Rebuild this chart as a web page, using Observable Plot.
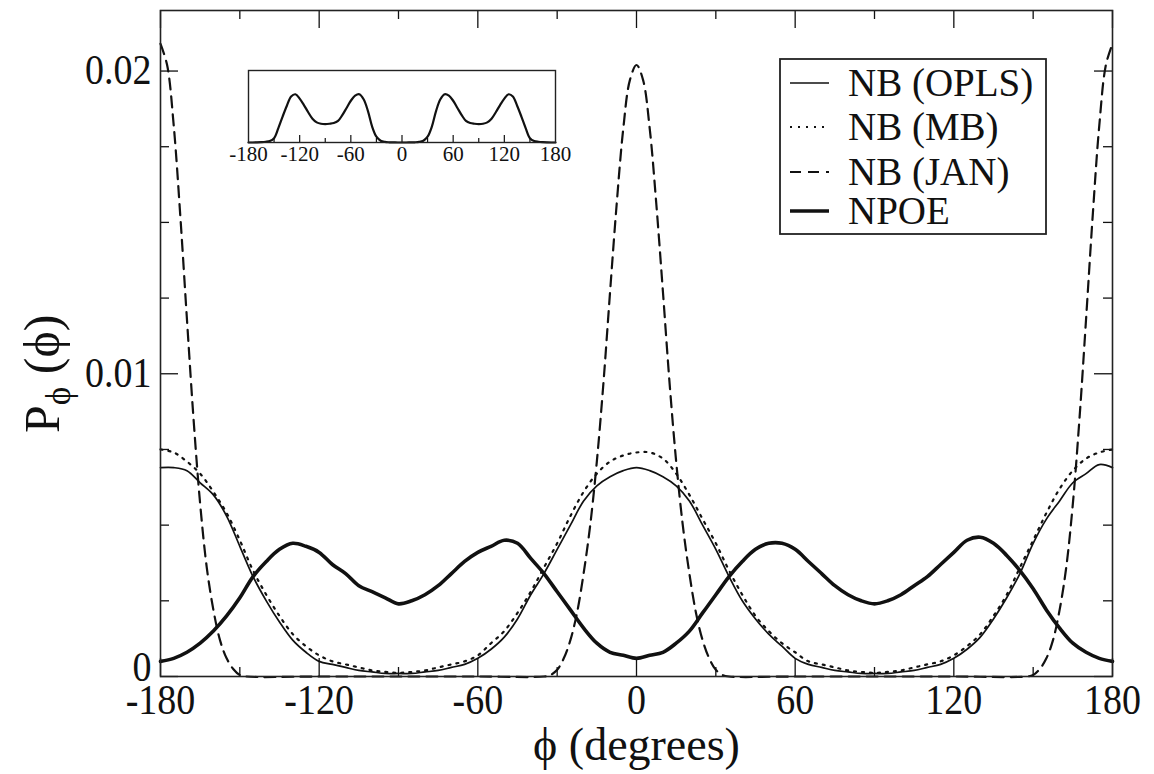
<!DOCTYPE html>
<html>
<head>
<meta charset="utf-8">
<script src="https://cdn.jsdelivr.net/npm/d3@7"></script>
<script src="https://cdn.jsdelivr.net/npm/@observablehq/plot@0.6"></script>
<style>
  body { margin: 0; background: #fff; }
  #wrap { position: relative; width: 1154px; height: 774px; overflow: hidden; font-family: "Liberation Serif", "Times New Roman", "DejaVu Serif", serif; }
  #wrap text { font-family: "Liberation Serif", "Times New Roman", "DejaVu Serif", serif !important; }
  #inset { position: absolute; left: 228px; top: 68px; }
  #legend { position: absolute; left: 779px; top: 58px; }
</style>
</head>
<body>
<div id="wrap"></div>
<script>
// ---- data ----
const phi = [
  -180,-175,-170,-165,-160,-155,-150,-145,-140,-135,-130,-125,
  -120,-115,-110,-105,-100,-95,-90,-85,-80,-75,-70,-65,
  -60,-55,-50,-45,-40,-35,-30,-25,-20,-15,-10,-5,
  0,5,10,15,20,25,30,35,40,45,50,55,
  60,65,70,75,80,85,90,95,100,105,110,115,
  120,125,130,135,140,145,150,155,160,165,170,175,180
];
const nbOpls = [
  0.0069,0.0069,0.0068,0.0064,0.0060,0.0053,0.0043,0.0033,0.0025,0.0018,0.0012,0.0008,
  0.0005,0.0004,0.0003,0.0002,0.00015,0.0001,0.0001,0.0001,0.00015,0.0002,0.0003,0.0004,
  0.0006,0.0009,0.0013,0.0019,0.0027,0.0034,0.0042,0.0050,0.0058,0.0063,0.0066,0.0068,
  0.0069,0.0068,0.0066,0.0063,0.0058,0.0050,0.0042,0.0033,0.0025,0.0019,0.0014,0.0010,
  0.0006,0.0004,0.0003,0.0002,0.00015,0.0001,0.0001,0.0001,0.00015,0.0002,0.0003,0.0004,
  0.0006,0.0009,0.0013,0.0019,0.0026,0.0034,0.0044,0.0052,0.0058,0.0064,0.0067,0.0070,0.0069
];
const nbMb = [
  0.0075,0.0074,0.0071,0.0067,0.0061,0.0054,0.0045,0.0035,0.0027,0.0020,0.0014,0.0010,
  0.0007,0.0005,0.0004,0.0003,0.0002,0.00015,0.00012,0.00015,0.0002,0.0003,0.0004,0.0005,
  0.0007,0.0011,0.0015,0.0021,0.0028,0.0036,0.0044,0.0053,0.0061,0.0067,0.0071,0.0073,
  0.0074,0.0074,0.0072,0.0067,0.0060,0.0052,0.0044,0.0035,0.0027,0.0020,0.0015,0.0011,
  0.0008,0.0005,0.0004,0.0003,0.0002,0.00015,0.00012,0.00015,0.0002,0.0003,0.0004,0.0005,
  0.0007,0.0010,0.0014,0.0020,0.0027,0.0036,0.0045,0.0054,0.0062,0.0068,0.0072,0.0074,0.0075
];
const npoe = [
  0.0005,0.0006,0.0008,0.0011,0.0015,0.0020,0.0026,0.0033,0.0038,0.0042,0.0044,0.0043,
  0.0041,0.0037,0.0034,0.0030,0.0028,0.0026,0.0024,0.0025,0.0027,0.0030,0.0034,0.0038,
  0.0041,0.0043,0.0045,0.0044,0.0039,0.0034,0.0028,0.0022,0.0016,0.0011,0.0008,0.0007,
  0.0006,0.0007,0.0008,0.0011,0.0015,0.0021,0.0027,0.0033,0.0038,0.0042,0.0044,0.0044,
  0.0042,0.0038,0.0034,0.0030,0.0027,0.0025,0.0024,0.0025,0.0027,0.0030,0.0033,0.0037,
  0.0041,0.0045,0.0046,0.0044,0.0040,0.0035,0.0029,0.0022,0.0016,0.0011,0.0008,0.0006,0.0005
];
const janPhi = [
  -180,-177.5,-175,-172.5,-170,-167.5,-165,-162.5,-160,-157.5,-155,-152.5,-150,-147.5,
  -120,-90,-60,-35,
  -32.5,-30,-27.5,-25,-22.5,-20,-17.5,-15,-12.5,-10,-7.5,-5,-2.5,
  0,2.5,5,7.5,10,12.5,15,17.5,20,22.5,25,27.5,30,32.5,
  35,60,90,120,
  147.5,150,152.5,155,157.5,160,162.5,165,167.5,170,172.5,175,177.5,180
];
const nbJan = [
  0.0209,0.0202,0.0182,0.0152,0.0118,0.0085,0.0057,0.0036,0.0022,0.0012,0.0006,0.00025,0.00005,0,
  0,0,0,0,
  0.00005,0.00022,0.0006,0.0012,0.0021,0.0034,0.0050,0.0071,0.0097,0.0127,0.0156,0.0181,0.0197,
  0.0202,0.0197,0.0181,0.0156,0.0127,0.0097,0.0071,0.0050,0.0034,0.0021,0.0012,0.0006,0.00022,0.00005,
  0,0,0,0,
  0,0.00005,0.00025,0.0006,0.0012,0.0022,0.0036,0.0057,0.0085,0.0118,0.0152,0.0182,0.0202,0.0209
];
const insetVals = [
  0,0,0.002,0.005,0.01,0.02,0.06,0.2,0.36,0.51,0.64,0.67,
  0.61,0.52,0.42,0.33,0.28,0.26,0.255,0.26,0.27,0.30,0.38,0.48,
  0.58,0.65,0.67,0.6,0.44,0.22,0.08,0.025,0.008,0.003,0.001,0,
  0,0,0.001,0.003,0.008,0.025,0.08,0.22,0.44,0.6,0.67,0.65,
  0.58,0.48,0.38,0.30,0.27,0.26,0.255,0.26,0.28,0.33,0.42,0.52,
  0.61,0.67,0.64,0.51,0.36,0.2,0.06,0.02,0.01,0.005,0.002,0,0
];
const xMajor = [-180,-120,-60,0,60,120,180];
const xMinor = [-150,-90,-30,30,90,150];
const yMajor = [0,0.01,0.02];
const yMinor = [0.0025,0.005,0.0075,0.0125,0.015,0.0175];
const insetMajor = [-120,-60,0,60,120];
const insetMinor = [-150,-90,-30,30,90,150];
const insetTickLabels = [-180,-120,-60,0,60,120,180];
const seriesNames = ["NB (OPLS)","NB (MB)","NB (JAN)","NPOE"];
const xTitle = "ϕ (degrees)";
const yTitle = "Pϕ (ϕ)";

// ---- build ----
const toRows = (xs, ys) => xs.map((p, i) => ({phi: p, P: ys[i]}));
const rowsOpls = toRows(phi, nbOpls);
const rowsMb = toRows(phi, nbMb);
const rowsJan = toRows(janPhi, nbJan);
const rowsNpoe = toRows(phi, npoe);
const rowsInset = toRows(phi, insetVals);

const W = 1154, H = 774, mL = 160, mR = 42, mT = 10, mB = 98;
const innerH = H - mT - mB, innerW = W - mL - mR;
const FONT = '"Liberation Serif", "Times New Roman", "DejaVu Serif", serif';
const INK = "#111";

const main = Plot.plot({
  width: W, height: H,
  marginLeft: mL, marginRight: mR, marginTop: mT, marginBottom: mB,
  style: {fontFamily: FONT, background: "#fff", color: INK},
  x: {domain: [-180, 180]},
  y: {domain: [0, 0.022]},
  marks: [
    // inward ticks
    Plot.tickX(xMajor, {x: d => d, insetTop: innerH - 18, stroke: INK, strokeWidth: 1.3}),
    Plot.tickX(xMajor, {x: d => d, insetBottom: innerH - 18, stroke: INK, strokeWidth: 1.3}),
    Plot.tickX(xMinor, {x: d => d, insetTop: innerH - 9, stroke: INK, strokeWidth: 1.3}),
    Plot.tickX(xMinor, {x: d => d, insetBottom: innerH - 9, stroke: INK, strokeWidth: 1.3}),
    Plot.tickY(yMajor, {y: d => d, insetRight: innerW - 18, stroke: INK, strokeWidth: 1.3}),
    Plot.tickY(yMajor, {y: d => d, insetLeft: innerW - 18, stroke: INK, strokeWidth: 1.3}),
    Plot.tickY(yMinor, {y: d => d, insetRight: innerW - 9, stroke: INK, strokeWidth: 1.3}),
    Plot.tickY(yMinor, {y: d => d, insetLeft: innerW - 9, stroke: INK, strokeWidth: 1.3}),
    Plot.axisX({ticks: xMajor, tickSize: 0, tickPadding: 8, fontSize: 38, label: null, tickFormat: d => String(d)}),
    Plot.axisY({ticks: yMajor, tickSize: 0, tickPadding: 9, fontSize: 38, label: null, tickFormat: d => d === 0 ? "0" : d.toFixed(2)}),
    // curves
    Plot.line(rowsJan, {x: "phi", y: "P", stroke: INK, strokeWidth: 2.2, strokeDasharray: "11,7", curve: "catmull-rom"}),
    Plot.line(rowsMb, {x: "phi", y: "P", stroke: INK, strokeWidth: 2.2, strokeDasharray: "2,6", curve: "catmull-rom"}),
    Plot.line(rowsOpls, {x: "phi", y: "P", stroke: INK, strokeWidth: 1.7, curve: "catmull-rom"}),
    Plot.line(rowsNpoe, {x: "phi", y: "P", stroke: INK, strokeWidth: 3.6, curve: "catmull-rom"}),
    Plot.frame({stroke: "#222", strokeWidth: 1.6}),
    // axis titles
    Plot.text([xTitle], {frameAnchor: "bottom", dy: 69, lineAnchor: "middle", fontSize: 46, fill: INK}),
    Plot.text([yTitle], {frameAnchor: "left", y: () => 0.0100, dx: -118, rotate: -90, textAnchor: "middle", lineAnchor: "middle", fontSize: 50, fill: INK})
  ]
});

// subscript on the y title
d3.select(main).selectAll("text").filter(function() { return this.textContent === yTitle; })
  .each(function() {
    const t = d3.select(this);
    t.text(null);
    t.append("tspan").text("P");
    t.append("tspan").attr("font-size", 35).attr("dy", 11).text("ϕ");
    t.append("tspan").attr("dy", -11).text("\u00a0(ϕ)");
  });

// slightly taller tick numerals, as in the reference
d3.select(main).selectAll('g[aria-label="x-axis tick label"] text, g[aria-label="y-axis tick label"] text')
  .each(function() {
    const tr = this.getAttribute("transform") || "";
    const lift = this.textContent === "0" && this.parentNode.getAttribute("aria-label") === "y-axis tick label" ? " translate(0,-9)" : "";
    this.setAttribute("transform", tr + lift + " scale(1,1.1)");
  });

const wrap = document.getElementById("wrap");
wrap.appendChild(main);

// ---- inset ----
const iW = 347, iH = 100, iL = 20, iR = 20, iT = 2, iB = 26;
const iInnerH = iH - iT - iB;
const inset = Plot.plot({
  width: iW, height: iH,
  marginLeft: iL, marginRight: iR, marginTop: iT, marginBottom: iB,
  style: {fontFamily: FONT, background: "#fff", color: INK, overflow: "visible"},
  x: {domain: [-180, 180]},
  y: {domain: [0, 1], axis: null},
  marks: [
    Plot.tickX(insetMajor, {x: d => d, insetTop: iInnerH - 7, stroke: INK, strokeWidth: 1.2}),
    Plot.tickX(insetMinor, {x: d => d, insetTop: iInnerH - 4, stroke: INK, strokeWidth: 1.2}),
    Plot.axisX({ticks: insetTickLabels, tickSize: 0, tickPadding: 4, fontSize: 21, label: null, tickFormat: d => String(d)}),
    Plot.line(rowsInset, {x: "phi", y: "P", stroke: INK, strokeWidth: 2.2, curve: "catmull-rom"}),
    Plot.frame({stroke: "#222", strokeWidth: 1.4})
  ]
});
inset.id = "inset";
wrap.appendChild(inset);

// ---- legend ----
const styles = [
  {w: 1.7, dash: null},
  {w: 2.2, dash: "2,6"},
  {w: 2.2, dash: "11,7"},
  {w: 3.6, dash: null}
];
const lg = d3.select(wrap).append("svg").attr("id", "legend")
  .attr("width", 268).attr("height", 177);
lg.append("rect").attr("x", 1).attr("y", 1).attr("width", 266).attr("height", 175)
  .attr("fill", "#fff").attr("stroke", "#222").attr("stroke-width", 1.8);
const rowY = [25, 69, 114, 153];
seriesNames.forEach((name, i) => {
  const s = styles[i];
  const ln = lg.append("line").attr("x1", 11).attr("x2", 50).attr("y1", rowY[i]).attr("y2", rowY[i])
    .attr("stroke", INK).attr("stroke-width", s.w);
  if (s.dash) ln.attr("stroke-dasharray", s.dash);
  lg.append("text").attr("x", 69).attr("y", rowY[i] + 13)
    .style("font-family", FONT).attr("font-size", 39).attr("fill", INK).text(name);
});
</script>
</body>
</html>
